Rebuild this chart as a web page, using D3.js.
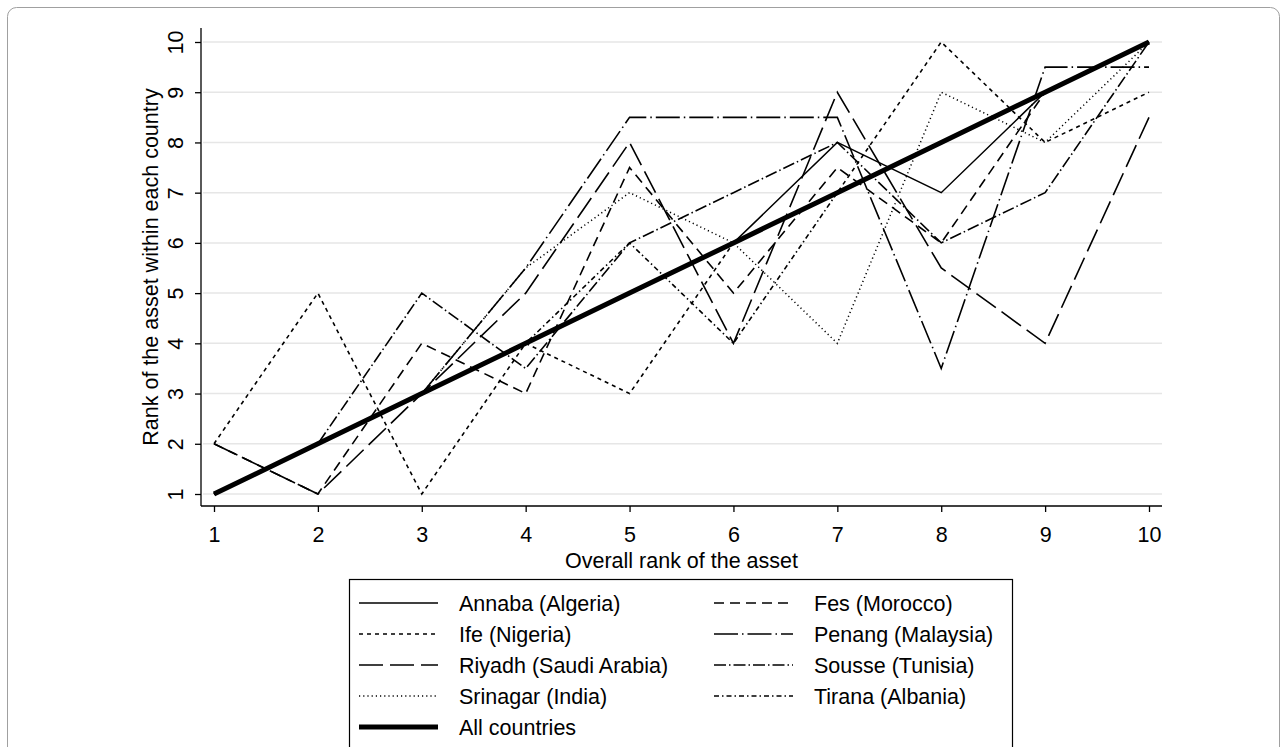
<!DOCTYPE html>
<html>
<head>
<meta charset="utf-8">
<script src="https://cdn.jsdelivr.net/npm/d3@7"></script>
<style>
  html, body { margin: 0; padding: 0; background: #fff; }
  svg { display: block; font-family: "Liberation Sans", Arial, sans-serif; }
</style>
</head>
<body>
<svg id="chart" width="1287" height="747"></svg>
<script>
// Overall rank of each asset (x) and its rank within each city (y)
const overallRank = [1, 2, 3, 4, 5, 6, 7, 8, 9, 10];
const yTicks = [1, 2, 3, 4, 5, 6, 7, 8, 9, 10];

const annaba   = [1, 2, 3, 4, 5, 6, 8, 7, 9, 10];
const fes      = [2, 1, 4, 3, 7.5, 5, 7.5, 6, 9, 10];
const ife      = [2, 5, 1, 4, 3, 6, 7, 10, 8, 9];
const penang   = [1, 2, 3, 5.5, 8.5, 8.5, 8.5, 3.5, 9.5, 9.5];
const riyadh   = [2, 1, 3, 5, 8, 4, 9, 5.5, 4, 8.5];
const sousse   = [1, 2, 5, 3.5, 6, 7, 8, 6, 7, 10];
const srinagar = [1, 2, 3, 5.5, 7, 6, 4, 9, 8, 10];
const tirana   = [1, 2, 3, 4, 6, 4, 7, 8, 9, 10];
const allCountries = [1, 2, 3, 4, 5, 6, 7, 8, 9, 10];

const seriesNames = [
  "Annaba (Algeria)", "Fes (Morocco)", "Ife (Nigeria)", "Penang (Malaysia)",
  "Riyadh (Saudi Arabia)", "Sousse (Tunisia)", "Srinagar (India)", "Tirana (Albania)",
  "All countries"
];
const seriesValues = [annaba, fes, ife, penang, riyadh, sousse, srinagar, tirana, allCountries];
// stroke dash patterns and widths per series
const dashes = ["", "10,6", "4,4", "24,4,1.5,4", "24,7", "12,3,1.5,3", "1.2,3", "5,3,1.5,3", ""];
const widths = [1.5, 1.6, 1.6, 1.6, 1.6, 1.6, 1.5, 1.6, 5];

const FONT = 21.5;
const svg = d3.select("#chart");

// outer frame
svg.append("rect")
  .attr("x", 7.5).attr("y", 7.5).attr("width", 1272).attr("height", 770)
  .attr("rx", 9).attr("fill", "none").attr("stroke", "#a0a0a0").attr("stroke-width", 1);

const plot = { left: 201, right: 1162, top: 28, bottom: 506 };
const x = d3.scaleLinear().domain([1, 10]).range([214, 1149]);
const y = d3.scaleLinear().domain([1, 10]).range([494, 42]);

// gridlines
svg.append("g").selectAll("line").data(yTicks).join("line")
  .attr("x1", plot.left + 2).attr("x2", plot.right)
  .attr("y1", d => y(d)).attr("y2", d => y(d))
  .attr("stroke", "#e6e6e6").attr("stroke-width", 1.5);

// series lines
const line = d3.line().x((d, i) => x(overallRank[i])).y(d => y(d));
const order = [0, 1, 2, 3, 4, 5, 6, 7, 8];
svg.append("g").selectAll("path").data(order).join("path")
  .attr("d", i => line(seriesValues[i]))
  .attr("fill", "none").attr("stroke", "#000")
  .attr("stroke-width", i => widths[i])
  .attr("stroke-dasharray", i => dashes[i] || null)
  .attr("stroke-linejoin", "miter");

// y axis
const yAxis = svg.append("g").attr("transform", `translate(${plot.left},0)`)
  .call(d3.axisLeft(y).tickValues(yTicks).tickSize(6).tickFormat(d3.format("d")));
yAxis.select(".domain").attr("d", `M0,${plot.top}V${plot.bottom}`).attr("stroke-width", 1.3);
yAxis.selectAll(".tick line").attr("stroke-width", 1.3);
yAxis.selectAll(".tick text")
  .attr("font-size", FONT).attr("fill", "#000")
  .attr("x", 0).attr("y", 0).attr("dy", 0)
  .attr("text-anchor", "middle")
  .attr("transform", "translate(-18,0) rotate(-90)");

// x axis
const xAxis = svg.append("g").attr("transform", `translate(0,${plot.bottom})`)
  .call(d3.axisBottom(x).tickValues(overallRank).tickSize(6).tickFormat(d3.format("d")));
xAxis.select(".domain").attr("d", `M${plot.left},0H${plot.right}`).attr("stroke-width", 1.3);
xAxis.selectAll(".tick line").attr("stroke-width", 1.3);
xAxis.selectAll(".tick text").attr("font-size", FONT).attr("fill", "#000").attr("y", 36).attr("dy", 0);

// axis titles
svg.append("text")
  .attr("transform", `translate(158,${(plot.top + plot.bottom) / 2}) rotate(-90)`)
  .attr("text-anchor", "middle").attr("font-size", FONT).attr("fill", "#000")
  .text("Rank of the asset within each country");
svg.append("text")
  .attr("x", (plot.left + plot.right) / 2).attr("y", 568)
  .attr("text-anchor", "middle").attr("font-size", FONT).attr("fill", "#000")
  .text("Overall rank of the asset");

// legend
const legend = svg.append("g");
legend.append("rect")
  .attr("x", 349.5).attr("y", 579.5).attr("width", 663).attr("height", 190)
  .attr("fill", "#fff").attr("stroke", "#000").attr("stroke-width", 1.2);
const rowY = [603, 634, 665, 696, 727];
const colX = [359, 714];
const item = legend.selectAll("g.item").data(order).join("g")
  .attr("transform", i => {
    const col = i === 8 ? 0 : i % 2;
    const row = i === 8 ? 4 : Math.floor(i / 2);
    return `translate(${colX[col]},${rowY[row]})`;
  });
item.append("line")
  .attr("x1", 0).attr("x2", 79).attr("y1", 0).attr("y2", 0)
  .attr("stroke", "#000")
  .attr("stroke-width", i => widths[i])
  .attr("stroke-dasharray", i => dashes[i] || null);
item.append("text")
  .attr("x", 100).attr("y", 0).attr("dy", "0.35em")
  .attr("font-size", FONT).attr("fill", "#000")
  .text(i => seriesNames[i]);
</script>
</body>
</html>
